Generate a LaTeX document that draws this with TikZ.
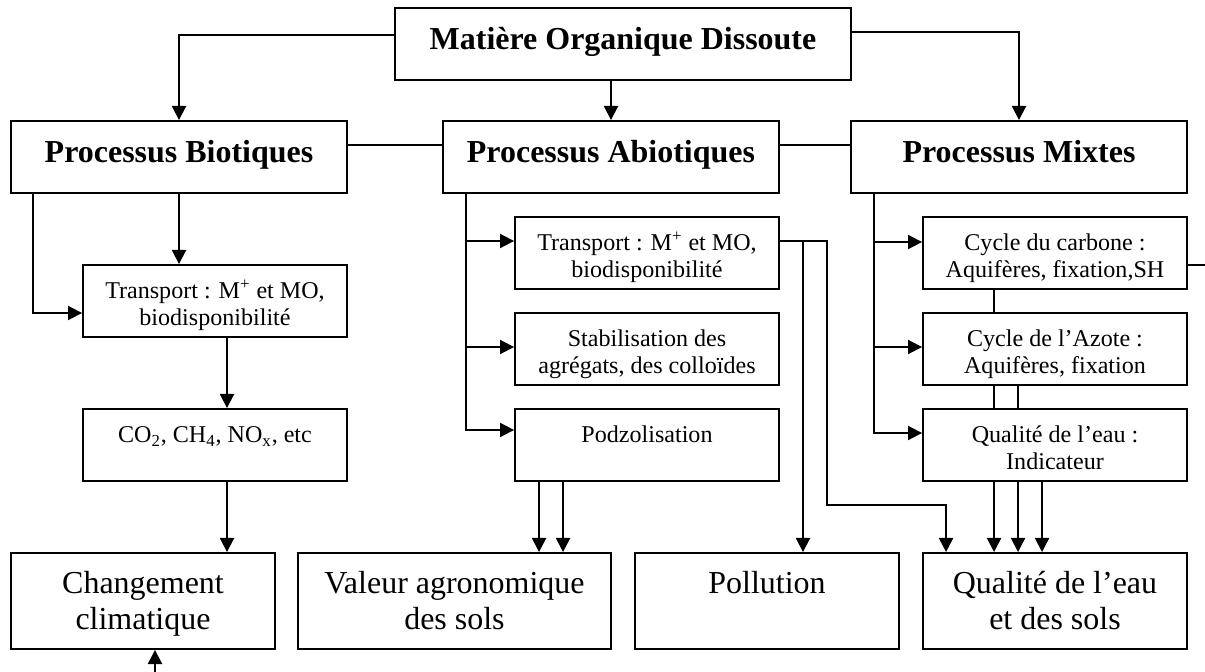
\documentclass[tikz,border=0pt]{standalone}
\usepackage{fontspec}
\setmainfont{Liberation Serif}
\usetikzlibrary{arrows.meta}

\begin{document}
\begin{tikzpicture}[x=0.02cm,y=-0.02cm,line width=1.1pt,
				>={Triangle[length=8pt,width=8pt]},
				every node/.style={draw,rectangle,align=center,inner sep=2pt},
				titre/.style={font=\fontsize{18.2}{21}\selectfont\bfseries,minimum width=6.72cm,minimum height=1.44cm,text height=13pt,text depth=6.2pt},
				petit/.style={font=\fontsize{13.7}{15.4}\selectfont,minimum width=5.28cm,minimum height=1.44cm,text height=28.4pt,text depth=0pt},
				effet/.style={font=\fontsize{18.2}{21}\selectfont,minimum width=5.28cm,minimum height=1.92cm,text height=32.9pt,text depth=0pt}]
\useasboundingbox (0,0) rectangle (1205,672);
% haut
\node[titre,minimum width=9.12cm] (mod) at (623,44) {Matière Organique Dissoute};
\node[titre] (bio) at (179,157) {Processus Biotiques};
\node[titre] (abio) at (611,157) {Processus Abiotiques};
\node[titre] (mix) at (1019,157) {Processus Mixtes};
% processus
\node[petit] (transB) at (215,301) {Transport : M\textsuperscript{+} et MO,\\biodisponibilité};
\node[petit] (gaz) at (215,445) {CO\textsubscript{2}, CH\textsubscript{4}, NO\textsubscript{x}, etc\\\strut};
\node[petit] (transA) at (647,253) {Transport : M\textsuperscript{+} et MO,\\biodisponibilité};
\node[petit] (stab) at (647,349) {Stabilisation des\\agrégats, des colloïdes};
\node[petit] (podz) at (647,445) {Podzolisation\\\strut};
\node[petit] (carb) at (1055,253) {Cycle du carbone :\\Aquifères, fixation,SH};
\node[petit] (azote) at (1055,349) {Cycle de l’Azote :\\Aquifères, fixation};
\node[petit] (qual) at (1055,445) {Qualité de l’eau :\\Indicateur};
% effets
\node[effet] (chang) at (143,601) {Changement\\climatique};
\node[effet,minimum width=6.26cm] (valeur) at (454.5,601) {Valeur agronomique\\des sols};
\node[effet] (pollu) at (767,601) {Pollution\\\strut};
\node[effet] (eau) at (1055,601) {Qualité de l’eau\\et des sols};
\coordinate (bas) at (155,672);
\coordinate (bord) at (1205,265);
\coordinate (coude) at (827,505);

\draw[->] ([yshift=0.18cm]mod.west) -| (bio);
\draw[->] (mod.south -| abio) -- (abio);
\draw[->] ([yshift=0.24cm]mod.east) -| (mix);
\draw ([yshift=0.24cm]bio.east) -- ([yshift=0.24cm]abio.west);
\draw ([yshift=0.24cm]abio.east) -- ([yshift=0.24cm]mix.west);
% biotiques
\draw[->] ([xshift=0.46cm]bio.south west) |- ([yshift=-0.24cm]transB.west);
\draw[->] (bio.south) -- (bio.south |- transB.north);
\draw[->] ([xshift=0.24cm]transB.south) -- ([xshift=0.24cm]gaz.north);
\draw[->] ([xshift=0.24cm]gaz.south) -- ([xshift=0.24cm]gaz.south |- chang.north);
\draw[->] (bas) -- (bas |- chang.south);
% abiotiques
\draw[->] ([xshift=0.48cm]abio.south west) |- ([yshift=0.24cm]transA.west);
\draw[->] ([xshift=0.48cm]abio.south west) |- ([yshift=0.04cm]stab.west);
\draw[->] ([xshift=0.48cm]abio.south west) |- ([yshift=0.3cm]podz.west);
\draw[->] ([xshift=0.5cm]podz.south west) -- ([xshift=0.5cm]podz.south west |- valeur.north);
\draw[->] ([xshift=0.98cm]podz.south west) -- ([xshift=0.98cm]podz.south west |- valeur.north);
\draw[->] ([yshift=0.24cm]transA.east) -| ([xshift=0.72cm]pollu.north);
\draw[->] ([yshift=0.24cm]transA.east) -| (coude) -| ([xshift=0.48cm]eau.north west);
% mixtes
\draw[->] ([xshift=0.48cm]mix.south west) |- ([yshift=0.22cm]carb.west);
\draw[->] ([xshift=0.48cm]mix.south west) |- ([yshift=0.04cm]azote.west);
\draw[->] ([xshift=0.48cm]mix.south west) |- ([yshift=0.24cm]qual.west);
\draw ([yshift=-0.24cm]carb.east) -- (bord);
\draw ([xshift=1.44cm]carb.south west) -- ([xshift=1.44cm]azote.north west);
\draw ([xshift=1.44cm]azote.south west) -- ([xshift=1.44cm]qual.north west);
\draw ([xshift=1.92cm]azote.south west) -- ([xshift=1.92cm]qual.north west);
\draw[->] ([xshift=1.44cm]qual.south west) -- ([xshift=1.44cm]eau.north west);
\draw[->] ([xshift=1.92cm]qual.south west) -- ([xshift=1.92cm]eau.north west);
\draw[->] ([xshift=2.4cm]qual.south west) -- ([xshift=2.4cm]eau.north west);
\end{tikzpicture}
\end{document}
